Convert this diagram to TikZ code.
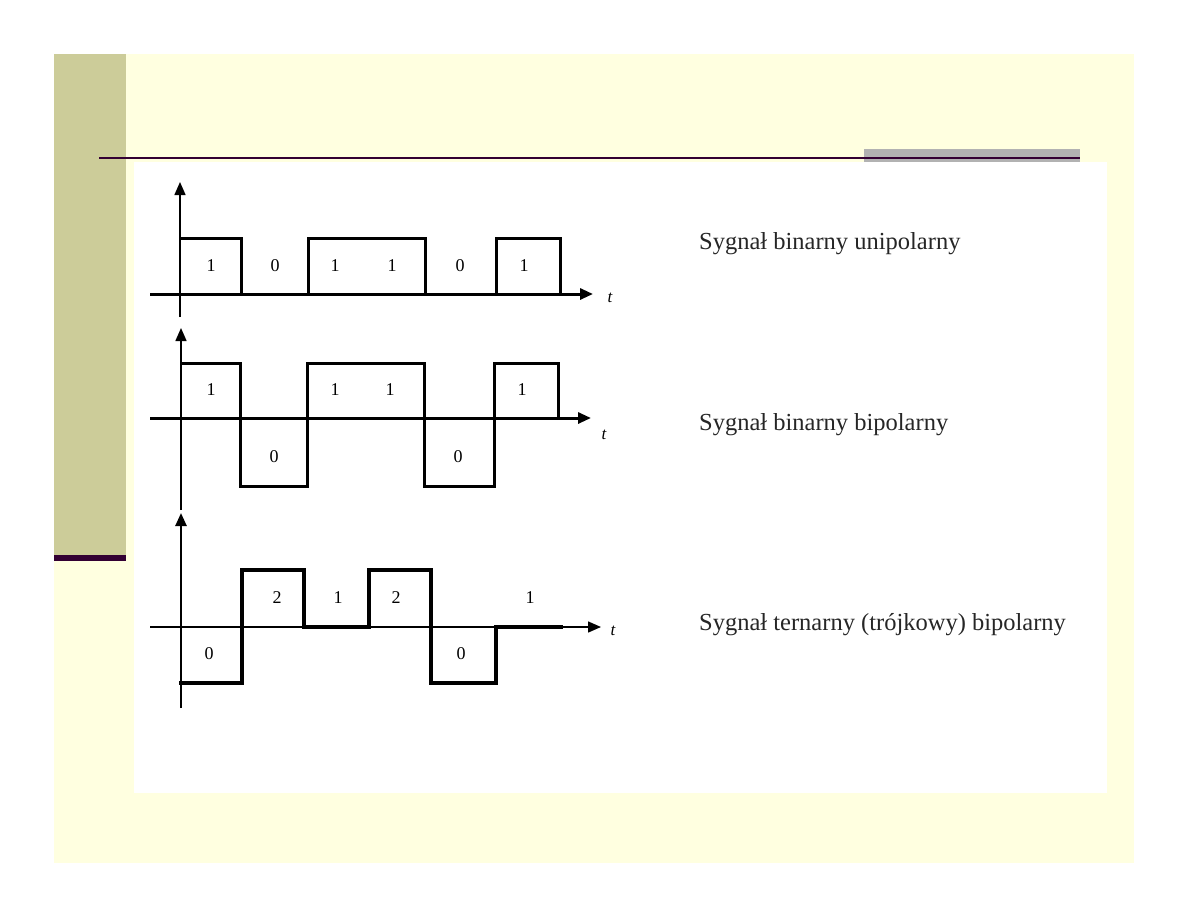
\documentclass[tikz,border=0pt]{standalone}
\usepackage{fontspec}
\setmainfont{Liberation Serif}
\usetikzlibrary{arrows.meta}
\definecolor{slidebg}{RGB}{255,255,224}
\definecolor{olivebar}{RGB}{204,204,153}
\definecolor{plumline}{RGB}{51,0,51}
\definecolor{bargray}{RGB}{178,178,178}
\begin{document}
\begin{tikzpicture}[x=1pt,y=-1pt,
  axisline/.style={line width=1.5pt},
  tipend/.style={-{Triangle[length=13pt,width=11pt]}},
  wave/.style={line width=3pt, line join=miter, line cap=rect},
  digit/.style={font=\fontsize{18}{20}\selectfont, inner sep=0pt},
  tlab/.style={font=\fontsize{17}{19}\selectfont\itshape, inner sep=0pt},
  caption/.style={font=\fontsize{24.5}{28}\selectfont, anchor=base west, inner sep=0pt, text=black!85}]
\useasboundingbox (0,0) rectangle (1188,918);
\fill[white] (0,0) rectangle (1188,918);
% slide background
\fill[slidebg] (54,54) rectangle (1134,863);
\fill[olivebar] (54,54) rectangle (126,555);
\fill[plumline] (54,555) rectangle (126,561);
\fill[white] (134,162) rectangle (1107,793);
\fill[bargray] (864,149) rectangle (1080,162);
\fill[plumline] (99,156.5) rectangle (1080,159);

% ---------- top: unipolar ----------
\coordinate (a1b) at (180,317);
\coordinate (a1t) at (180,182);
\coordinate (b1l) at (150,294);
\coordinate (b1r) at (593,294);
\draw[axisline,tipend] (a1b) -- (a1t);
\draw[line width=3pt,tipend] (b1l) -- (b1r);
\draw[wave] (180,238) -- (241,238) -- (241,294);
\draw[wave] (308,294) -- (308,238) -- (425,238) -- (425,294);
\draw[wave] (496,294) -- (496,238) -- (560,238) -- (560,294);
\node[digit] (u1) at (211,266) {1};
\node[digit] (u2) at (275,266) {0};
\node[digit] (u3) at (335,266) {1};
\node[digit] (u4) at (392,266) {1};
\node[digit] (u5) at (460,266) {0};
\node[digit] (u6) at (524,266) {1};
\node[tlab] (t1) at (610,298) {t};
\node[caption] (c1) at (699,249) {Sygnał binarny unipolarny};

% ---------- middle: binary bipolar ----------
\coordinate (a2b) at (181,510);
\coordinate (a2t) at (181,328);
\coordinate (b2l) at (150,418);
\coordinate (b2r) at (591,418);
\draw[axisline,tipend] (a2b) -- (a2t);
\draw[line width=3pt,tipend] (b2l) -- (b2r);
\draw[wave] (181,363) -- (240,363) -- (240,486) -- (307,486) -- (307,363)
  -- (424,363) -- (424,486) -- (494,486) -- (494,363) -- (558,363) -- (558,418);
\node[digit] (m1) at (211,390) {1};
\node[digit] (m2) at (274,457) {0};
\node[digit] (m3) at (335,390) {1};
\node[digit] (m4) at (390,390) {1};
\node[digit] (m5) at (458,457) {0};
\node[digit] (m6) at (522,390) {1};
\node[tlab] (t2) at (604,435) {t};
\node[caption] (c2) at (699,430) {Sygnał binarny bipolarny};

% ---------- bottom: ternary bipolar ----------
\coordinate (a3b) at (181,708);
\coordinate (a3t) at (181,513);
\coordinate (b3l) at (150,627);
\coordinate (b3r) at (601,627);
\draw[line width=2.5pt,tipend] (a3b) -- (a3t);
\draw[line width=1.5pt,tipend] (b3l) -- (b3r);
\draw[wave,line width=4.5pt] (181,683) -- (242,683) -- (242,570) -- (304,570) -- (304,627)
  -- (369,627) -- (369,570) -- (431,570) -- (431,683) -- (496,683) -- (496,627) -- (561,627);
\node[digit] (r1) at (209,654) {0};
\node[digit] (r2) at (277,598) {2};
\node[digit] (r3) at (338,598) {1};
\node[digit] (r4) at (396,598) {2};
\node[digit] (r5) at (461,654) {0};
\node[digit] (r6) at (530,598) {1};
\node[tlab] (t3) at (613,631) {t};
\node[caption] (c3) at (699,630) {Sygnał ternarny (trójkowy) bipolarny};
\end{tikzpicture}
\end{document}
